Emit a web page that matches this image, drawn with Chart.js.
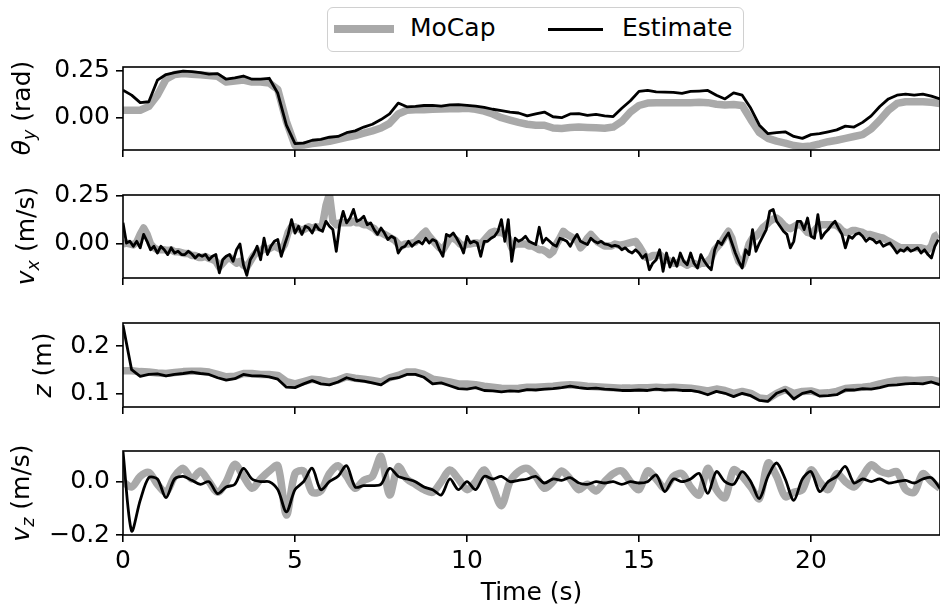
<!DOCTYPE html>
<html>
<head>
<meta charset="utf-8">
<script src="https://cdn.jsdelivr.net/npm/chart.js@4.4.1/dist/chart.umd.min.js"></script>
<style>
    body { margin: 0; background: #fff; font-family: "DejaVu Sans", sans-serif; }
    #wrap { position: relative; width: 940px; height: 610px; overflow: hidden; }
    .panel { position: absolute; left: 0; width: 940px; }
    .ylab { position: absolute; transform: translate(-50%, -50%) rotate(-90deg); font-size: 25px; white-space: nowrap; color: #000; }
    .ylab i { font-style: oblique; }
    .ylab sub { font-size: 0.7em; vertical-align: -0.25em; font-style: oblique; }
    #legend { position: absolute; left: 327px; top: 7px; width: 415px; height: 43px; border: 1.5px solid #d0d0d0; border-radius: 6px; background: #fff; }
    #legend .swatch { position: absolute; }
    #legend .txt { position: absolute; top: 5px; font-size: 25px; line-height: 30px; color: #000; }
</style>
</head>
<body>
<div id="wrap">
    <div id="legend">
        <div class="swatch" style="left:6px; top:17px; width:60px; height:8px; background:#a9a9a9;"></div>
        <div class="txt" style="left:82px;">MoCap</div>
        <div class="swatch" style="left:220px; top:20px; width:55px; height:3px; background:#000;"></div>
        <div class="txt" style="left:294px;">Estimate</div>
    </div>

    <div class="panel" style="top:52px; height:113px;"><canvas id="c_theta"></canvas></div>
    <div class="panel" style="top:180px; height:113px;"><canvas id="c_vx"></canvas></div>
    <div class="panel" style="top:308px; height:114px;"><canvas id="c_z"></canvas></div>
    <div class="panel" style="top:436px; height:174px;"><canvas id="c_vz"></canvas></div>

    <div class="ylab" style="left:23px; top:108px;"><i>θ</i><sub>y</sub> (rad)</div>
    <div class="ylab" style="left:27px; top:236px;"><i>v</i><sub>x</sub> (m/s)</div>
    <div class="ylab" style="left:42px; top:365px;"><i>z</i> (m)</div>
    <div class="ylab" style="left:22px; top:493px;"><i>v</i><sub>z</sub> (m/s)</div>
</div>

<script>
// sample spacing (s) of the series below
var dtSlow = 0.25;   // theta, z, vz
var dtVx = 0.1;      // vx

var xTicks = [0, 5, 10, 15, 20];

// pitch angle (rad)
var thetaMocap = [
    0.04, 0.04, 0.04, 0.06, 0.12, 0.205, 0.23, 0.235,
    0.232, 0.228, 0.225, 0.22, 0.19, 0.195, 0.2, 0.19,
    0.19, 0.185, 0.15, -0.02, -0.148, -0.145, -0.138, -0.132,
    -0.126, -0.115, -0.105, -0.095, -0.082, -0.07, -0.055, -0.03,
    0.02, 0.04, 0.042, 0.043, 0.045, 0.046, 0.048, 0.048,
    0.05, 0.045, 0.035, 0.02, 0.0, -0.013, -0.025, -0.035,
    -0.04, -0.04, -0.055, -0.057, -0.052, -0.05, -0.052, -0.054,
    -0.056, -0.05, -0.02, 0.03, 0.065, 0.078, 0.08, 0.08,
    0.08, 0.079, 0.08, 0.082, 0.08, 0.072, 0.068, 0.07,
    0.065, -0.01, -0.08, -0.11, -0.125, -0.135, -0.148, -0.155,
    -0.15, -0.14, -0.128, -0.12, -0.11, -0.1, -0.09, -0.06,
    -0.013, 0.04, 0.076, 0.085, 0.085, 0.085, 0.082, 0.075
];
var thetaEst = [
    0.147, 0.12, 0.08, 0.085, 0.2, 0.23, 0.24, 0.248,
    0.245, 0.24, 0.232, 0.235, 0.205, 0.212, 0.222, 0.205,
    0.205, 0.21, 0.13, -0.04, -0.138, -0.135, -0.12, -0.115,
    -0.104, -0.1, -0.08, -0.07, -0.05, -0.035, -0.01, 0.02,
    0.078, 0.058, 0.06, 0.065, 0.066, 0.062, 0.068, 0.07,
    0.066, 0.062, 0.055, 0.045, 0.038, 0.03, 0.025, 0.01,
    0.02, 0.03, 0.005, 0.0, 0.02, 0.022, 0.012, 0.018,
    0.01, 0.006, 0.05, 0.09, 0.14, 0.145, 0.138, 0.136,
    0.135, 0.13, 0.14, 0.142, 0.145, 0.12, 0.1, 0.132,
    0.12, 0.05, -0.04, -0.085, -0.08, -0.075, -0.1, -0.11,
    -0.09, -0.085, -0.075, -0.065, -0.045, -0.05, -0.025, 0.01,
    0.06, 0.1, 0.12, 0.125, 0.12, 0.125, 0.115, 0.1
];

// forward velocity (m/s), one row per second
var vxMocap = [
    0.0, 0.005, 0.0, -0.005, 0.01, 0.05, 0.083, 0.05, 0.0, -0.02,
    -0.03, -0.03, -0.03, -0.035, -0.03, -0.04, -0.04, -0.045, -0.05, -0.05,
    -0.06, -0.06, -0.07, -0.07, -0.065, -0.075, -0.08, -0.09, -0.12, -0.1,
    -0.08, -0.07, -0.085, -0.1, -0.09, -0.11, -0.12, -0.09, -0.06, -0.04,
    -0.04, -0.02, -0.03, -0.02, -0.01, -0.02, -0.03, 0.0, 0.06, 0.09,
    0.09, 0.08, 0.07, 0.08, 0.09, 0.08, 0.09, 0.085, 0.1, 0.2,
    0.26, 0.12, 0.1, 0.11, 0.11, 0.11, 0.11, 0.12, 0.11, 0.11,
    0.1, 0.1, 0.09, 0.08, 0.06, 0.06, 0.05, 0.04, 0.03, 0.02,
    0.0, -0.01, 0.0, 0.0, 0.005, 0.01, 0.03, 0.05, 0.066, 0.04,
    0.02, 0.0, -0.02, -0.03, 0.0, 0.03, 0.03, 0.02, 0.0, -0.01,
    0.0, 0.0, 0.005, 0.005, 0.0, 0.02, 0.04, 0.06, 0.066, 0.06,
    0.06, 0.05, 0.03, -0.02, 0.0, 0.0, 0.0, 0.0, -0.01, -0.01,
    -0.02, -0.03, -0.03, -0.04, -0.055, -0.04, 0.0, 0.03, 0.066, 0.05,
    0.04, 0.03, 0.02, -0.02, 0.0, 0.03, 0.05, 0.03, 0.01, 0.0,
    -0.01, -0.01, -0.01, 0.0, -0.005, -0.005, 0.0, 0.005, 0.01, 0.014,
    -0.01, -0.04, -0.07, -0.07, -0.06, -0.06, -0.055, -0.07, -0.08, -0.09,
    -0.1, -0.1, -0.09, -0.1, -0.11, -0.1, -0.1, -0.11, -0.1, -0.1,
    -0.09, -0.07, -0.03, -0.01, 0.01, 0.04, 0.066, 0.03, -0.04, -0.09,
    -0.107, -0.06, 0.0, 0.03, 0.04, 0.06, 0.085, 0.1, 0.118, 0.13,
    0.135, 0.12, 0.1, 0.085, 0.08, 0.09, 0.1, 0.1, 0.08, 0.06,
    0.055, 0.07, 0.09, 0.1, 0.1, 0.1, 0.1, 0.1, 0.09, 0.07,
    0.06, 0.06, 0.07, 0.07, 0.065, 0.06, 0.05, 0.05, 0.045, 0.04,
    0.035, 0.03, 0.02, 0.01, 0.0, -0.01, -0.02, -0.02, -0.02, -0.02,
    -0.02, -0.02, -0.02, -0.025, -0.03, -0.01, 0.04, 0.05
];
var vxEst = [
    0.11, 0.005, 0.014, -0.012, 0.014, -0.02, 0.05, 0.014, -0.03, -0.012,
    -0.047, -0.012, -0.03, -0.055, -0.02, -0.047, -0.038, -0.055, -0.055, -0.038,
    -0.052, -0.073, -0.055, -0.064, -0.055, -0.082, -0.064, -0.055, -0.15, -0.082,
    -0.064, -0.055, -0.09, -0.03, 0.0, -0.108, -0.163, -0.082, -0.052, -0.012,
    -0.082, 0.03, -0.055, -0.012, 0.014, 0.023, -0.064, -0.003, 0.05, 0.127,
    0.057, 0.092, 0.05, 0.092, 0.083, 0.057, 0.1, 0.075, 0.066, 0.118,
    0.092, 0.075, -0.038, 0.1, 0.17, 0.11, 0.135, 0.18, 0.118, 0.127,
    0.144, 0.1, 0.11, 0.075, 0.05, 0.083, 0.057, 0.023, 0.04, 0.03,
    -0.047, -0.02, -0.012, 0.014, -0.012, 0.005, 0.014, 0.0, 0.03, 0.005,
    0.023, 0.014, -0.03, -0.064, 0.05, 0.04, 0.057, 0.03, -0.003, -0.047,
    0.04, 0.005, 0.014, 0.005, -0.064, 0.014, 0.014, 0.03, 0.04, 0.066,
    0.127, 0.014, 0.127, -0.09, 0.03, 0.014, 0.023, 0.04, 0.014, 0.005,
    -0.003, 0.087, 0.005, 0.03, 0.014, -0.003, -0.012, 0.03, 0.023, 0.014,
    -0.012, 0.023, 0.05, 0.014, 0.005, -0.003, 0.03, 0.014, 0.005, 0.014,
    0.0, -0.003, -0.012, -0.007, -0.012, -0.03, -0.02, -0.038, -0.047, -0.03,
    -0.047, -0.073, -0.055, -0.134, -0.1, -0.082, -0.03, -0.142, -0.047, -0.12,
    -0.073, -0.116, -0.047, -0.09, -0.108, -0.047, -0.1, -0.125, -0.055, -0.09,
    -0.116, -0.134, -0.03, 0.014, -0.003, 0.03, 0.057, 0.005, -0.047, -0.09,
    -0.125, -0.03, -0.055, 0.075, -0.038, 0.005, 0.04, 0.075, 0.17, 0.18,
    0.118, 0.092, 0.066, 0.05, -0.02, 0.014, 0.118, 0.118, 0.075, 0.135,
    0.04, 0.03, 0.153, 0.03, 0.057, 0.075, 0.1, 0.118, 0.083, 0.05,
    -0.02, 0.04, 0.03, 0.05, 0.057, 0.04, 0.014, 0.03, 0.023, 0.005,
    0.014, -0.012, -0.003, 0.005, -0.02, -0.047, -0.03, -0.038, -0.02, -0.038,
    -0.03, -0.02, -0.047, -0.03, -0.055, -0.073, -0.012, 0.023
];

// height (m)
var zMocap = [
    0.148, 0.148, 0.146, 0.145, 0.143, 0.142, 0.144, 0.146,
    0.147, 0.147, 0.145, 0.14, 0.135, 0.136, 0.142, 0.142,
    0.14, 0.14, 0.138, 0.125, 0.12, 0.125, 0.13, 0.128,
    0.124, 0.128, 0.135, 0.132, 0.13, 0.127, 0.124, 0.133,
    0.138, 0.145, 0.145, 0.14, 0.13, 0.127, 0.124, 0.12,
    0.12, 0.118, 0.115, 0.113, 0.111, 0.11, 0.111, 0.113,
    0.113, 0.114, 0.115, 0.117, 0.118, 0.117, 0.115, 0.114,
    0.113, 0.112, 0.111, 0.111, 0.112, 0.112, 0.113, 0.112,
    0.113, 0.112, 0.111, 0.108, 0.105, 0.109, 0.106, 0.1,
    0.104, 0.1, 0.09, 0.088, 0.1, 0.108, 0.1, 0.104,
    0.105, 0.1, 0.101, 0.104, 0.11, 0.112, 0.113, 0.115,
    0.12, 0.124, 0.127, 0.128, 0.127, 0.128, 0.129, 0.125
];
var zEst = [
    0.244, 0.15, 0.136, 0.14, 0.141, 0.137, 0.14, 0.142,
    0.145, 0.142, 0.14, 0.133, 0.128, 0.131, 0.14, 0.137,
    0.137, 0.135, 0.13, 0.113, 0.112, 0.12, 0.127, 0.12,
    0.118, 0.124, 0.133, 0.128, 0.126, 0.122, 0.118, 0.13,
    0.133, 0.14, 0.14, 0.134, 0.12, 0.122, 0.116, 0.11,
    0.109, 0.112, 0.106, 0.105, 0.103, 0.105, 0.104, 0.108,
    0.107, 0.109, 0.11, 0.112, 0.115, 0.112, 0.11, 0.111,
    0.109, 0.108, 0.106, 0.106, 0.107, 0.106, 0.109, 0.107,
    0.108, 0.106, 0.106, 0.103, 0.097, 0.104, 0.1, 0.093,
    0.1, 0.095, 0.085, 0.083, 0.1, 0.107, 0.088, 0.1,
    0.104, 0.094, 0.095, 0.097, 0.107, 0.107, 0.11, 0.109,
    0.112, 0.117, 0.118, 0.12, 0.121, 0.12, 0.124, 0.118
];

// vertical velocity (m/s)
var vzMocap = [
    0.0, -0.02, 0.02, 0.035, -0.01, -0.04, 0.02, 0.05,
    0.01, 0.04, 0.0, -0.04, 0.0, 0.065, 0.02, -0.025,
    0.01, 0.04, 0.06, -0.125, 0.03, 0.04, -0.04, -0.035,
    0.03, 0.06, 0.02, -0.025, 0.005, 0.02, 0.095, -0.05,
    0.056, 0.01, -0.01, -0.03, -0.04, 0.0, 0.044, 0.01,
    -0.03, 0.0, 0.044, -0.02, -0.09, 0.0, 0.038, 0.05,
    0.02, -0.025, 0.0, 0.04, 0.01, -0.03, -0.01, -0.035,
    0.0, 0.03, 0.04, 0.0, -0.03, 0.04, 0.01, -0.025,
    0.02, 0.03, -0.02, -0.05, 0.05, -0.03, -0.06, 0.044,
    0.02, -0.02, -0.063, 0.07, 0.02, -0.056, -0.04, -0.03,
    0.044, 0.0, -0.03, 0.03, 0.0, -0.02, 0.02, 0.063,
    0.04, 0.03, 0.037, -0.03, -0.04, 0.03, 0.0, -0.025
];
var vzEst = [
    0.113, -0.185, -0.07, 0.015, 0.01, -0.06, 0.01, 0.02,
    0.005, -0.01, 0.0, -0.045, -0.02, -0.01, 0.05, 0.01,
    0.0, 0.0, -0.03, -0.113, -0.03, 0.0, 0.05, -0.03,
    0.0, 0.02, 0.06, -0.02, -0.015, -0.015, -0.01, 0.05,
    0.02, 0.01, 0.0, -0.02, -0.03, -0.05, 0.01, -0.03,
    0.0, -0.03, 0.02, 0.01, 0.02, 0.0, 0.005, 0.01,
    0.02, -0.005, 0.01, 0.005, 0.015, -0.005, -0.01, 0.0,
    -0.005, 0.0, -0.01, 0.0, -0.005, 0.0, 0.025, -0.037,
    0.01, 0.0, 0.01, 0.031, -0.044, 0.038, 0.0, -0.01,
    0.038, 0.0, -0.063, 0.02, 0.07, 0.01, -0.07, 0.01,
    0.038, -0.037, 0.0, 0.02, 0.057, -0.005, 0.01, 0.0,
    0.01, -0.005, 0.0, 0.005, -0.005, 0.01, 0.015, -0.025
];

Chart.defaults.font.family = "DejaVu Sans";
Chart.defaults.color = "#000";

var axisFont = { family: "DejaVu Sans", size: 25 };

// matplotlib style box round the axes
var framePlugin = {
    id: "frame",
    afterDraw: function (chart) {
        var a = chart.chartArea;
        var ctx = chart.ctx;
        ctx.save();
        ctx.strokeStyle = "#000";
        ctx.lineWidth = 1.6;
        ctx.strokeRect(a.left, a.top, a.right - a.left, a.bottom - a.top);
        ctx.restore();
    }
};

function toPoints(vals, dt) {
    return vals.map(function (v, i) {
        return { x: i * dt, y: v };
    });
}

function fmtTick(v, decimals) {
    return v.toFixed(decimals).replace("-", "\u2212");
}

function makePanel(canvasId, mocap, est, dt, yMin, yMax, yTicks, decimals, isBottom, tension) {
    var tickGrid = {
        display: true,
        drawOnChartArea: false,
        drawTicks: true,
        tickLength: 7,
        color: "#000",
        lineWidth: 1.6
    };

    return new Chart(document.getElementById(canvasId), {
        type: "line",
        data: {
            datasets: [{
                label: "MoCap",
                data: toPoints(mocap, dt),
                borderColor: "#a9a9a9",
                borderWidth: 7.5,
                borderJoinStyle: "round",
                borderCapStyle: "butt",
                pointRadius: 0,
                tension: tension,
                clip: 0,
                order: 2
            }, {
                label: "Estimate",
                data: toPoints(est, dt),
                borderColor: "#000",
                borderWidth: 2.8,
                borderJoinStyle: "round",
                pointRadius: 0,
                tension: tension,
                clip: 0,
                order: 1
            }]
        },
        options: {
            responsive: true,
            maintainAspectRatio: false,
            animation: false,
            events: [],
            layout: {
                padding: { top: 15, right: 0, bottom: 0, left: 0 }
            },
            plugins: {
                legend: { display: false },
                tooltip: { enabled: false }
            },
            scales: {
                x: {
                    type: "linear",
                    min: 0,
                    max: 23.75,
                    afterBuildTicks: function (scale) {
                        scale.ticks = xTicks.map(function (v) { return { value: v }; });
                    },
                    afterFit: function (scale) {
                        scale.height = isBottom ? 75 : 15;
                        scale.paddingLeft = 0;
                        scale.paddingRight = 0;
                    },
                    ticks: {
                        display: isBottom,
                        font: axisFont,
                        color: "#000",
                        padding: 4,
                        maxRotation: 0,
                        callback: function (v) { return String(v); }
                    },
                    grid: tickGrid,
                    border: { display: false },
                    title: {
                        display: isBottom,
                        text: "Time (s)",
                        font: axisFont,
                        color: "#000",
                        padding: { top: 0, bottom: 2 }
                    }
                },
                y: {
                    type: "linear",
                    min: yMin,
                    max: yMax,
                    afterBuildTicks: function (scale) {
                        scale.ticks = yTicks.map(function (v) { return { value: v }; });
                    },
                    afterFit: function (scale) {
                        // fixed axis width so all four plots line up
                        scale.width = 123;
                        scale.paddingTop = 0;
                        scale.paddingBottom = 0;
                    },
                    ticks: {
                        font: axisFont,
                        color: "#000",
                        padding: 6,
                        callback: function (v) { return fmtTick(v, decimals); }
                    },
                    grid: tickGrid,
                    border: { display: false }
                }
            }
        },
        plugins: [framePlugin]
    });
}

makePanel("c_theta", thetaMocap, thetaEst, dtSlow, -0.172, 0.27, [0, 0.25], 2, false, 0);
makePanel("c_vx", vxMocap, vxEst, dtVx, -0.177, 0.255, [0, 0.25], 2, false, 0);
makePanel("c_z", zMocap, zEst, dtSlow, 0.071, 0.249, [0.1, 0.2], 1, false, 0);
makePanel("c_vz", vzMocap, vzEst, dtSlow, -0.2, 0.115, [-0.2, 0], 1, true, 0.3);
</script>
</body>
</html>
